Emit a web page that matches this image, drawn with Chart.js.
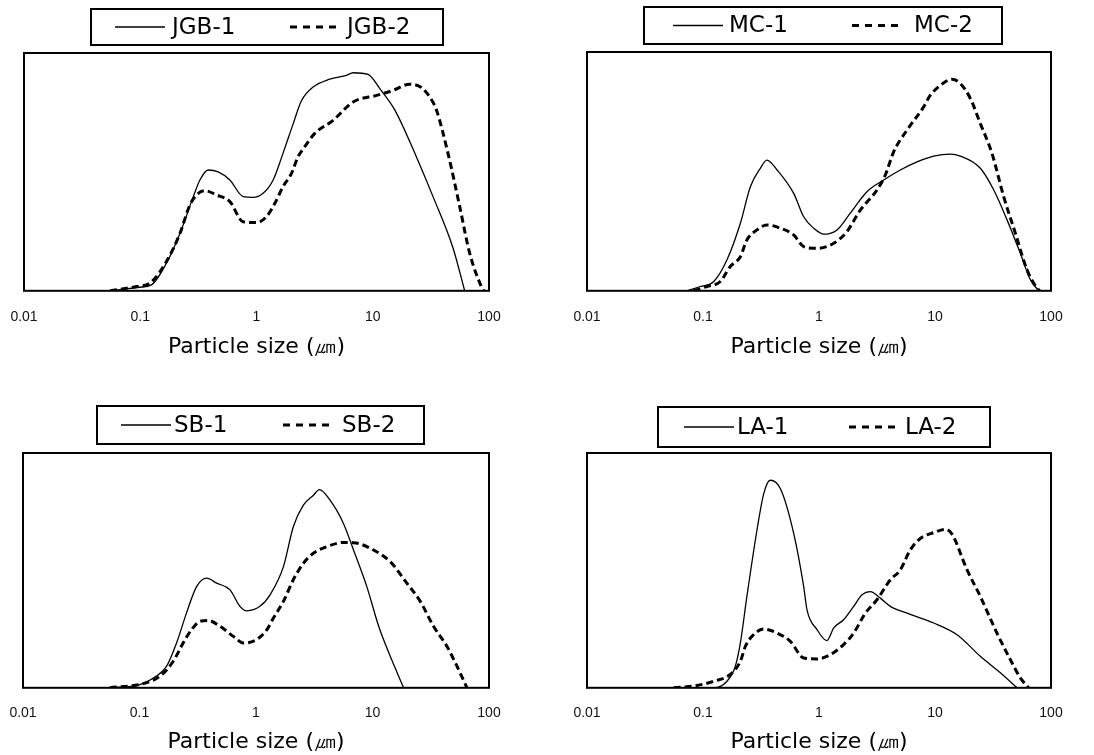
<!DOCTYPE html>
<html><head><meta charset="utf-8">
<script src="https://cdn.jsdelivr.net/npm/chart.js@4.4.1/dist/chart.umd.min.js"></script>
<style>
html,body{margin:0;padding:0;background:#fff;}
#wrap{position:relative;width:1094px;height:755px;overflow:hidden;background:#fff;}
canvas{position:absolute;}
</style></head><body>
<div id="wrap">
<canvas id="c1" width="547" height="380" style="left:0;top:0"></canvas>
<canvas id="c2" width="547" height="380" style="left:547px;top:0"></canvas>
<canvas id="c3" width="547" height="375" style="left:0;top:380px"></canvas>
<canvas id="c4" width="547" height="375" style="left:547px;top:380px"></canvas>
</div>
<script>
// ---- data ----
const tickValues = [0.01, 0.1, 1, 10, 100];
const tickLabels = ['0.01', '0.1', '1', '10', '100'];
const axisTitle = 'Particle size (\u339B)';

const jgb1Size  = [0.055, 0.099, 0.125, 0.168, 0.219, 0.286, 0.326, 0.384, 0.468, 0.59, 0.768, 0.936, 1.14, 1.39, 1.69, 2.07, 2.44, 3.07, 4.27, 5.94, 6.78, 9.12, 11.5, 15.5, 23.7, 33.0, 49.1, 61.8];
const jgb1Value = [0, 1.5, 2.5, 11.6, 24, 39.6, 46.6, 50.8, 50, 46.6, 39.6, 39.3, 41, 46.6, 57.8, 70.3, 80, 85.7, 89, 90.6, 91.7, 91, 85, 76, 56.4, 39.6, 17.9, 0];
const jgb2Size  = [0.055, 0.093, 0.121, 0.168, 0.219, 0.267, 0.305, 0.36, 0.453, 0.59, 0.768, 1.0, 1.22, 1.44, 1.69, 2.0, 2.28, 2.6, 3.17, 4.56, 6.78, 10.8, 15.0, 20.8, 26.2, 30.9, 35.3, 44.4, 56.0, 68.2, 85.9, 90];
const jgb2Value = [0, 1.8, 3.2, 12.3, 24, 36, 40.3, 42.1, 40.3, 37.5, 29, 28.7, 31.2, 36.8, 43.8, 49.4, 56.4, 60.6, 66.2, 71.7, 79.4, 82.2, 84.3, 86.9, 85.5, 81.5, 76, 57.8, 35.4, 15.8, 1.8, 0];

const mc1Size  = [0.073, 0.0948, 0.124, 0.161, 0.21, 0.256, 0.312, 0.356, 0.435, 0.605, 0.738, 0.9, 1.1, 1.43, 1.86, 2.59, 3.61, 5.02, 7.0, 9.75, 13.6, 16.5, 24.6, 32.1, 41.8, 54.4, 66.4, 78.3];
const mc1Value = [0, 1.8, 3.9, 13, 28.3, 43.6, 51.3, 54.7, 50.6, 40.8, 31, 26.2, 23.7, 25.5, 32.5, 41.5, 46.4, 50.6, 54, 56.4, 57.2, 56.4, 51.3, 42.2, 29.7, 15.7, 4.6, 0];
const mc2Size  = [0.083, 0.108, 0.141, 0.172, 0.21, 0.239, 0.292, 0.356, 0.464, 0.605, 0.738, 0.961, 1.34, 1.74, 2.27, 3.16, 3.73, 4.4, 5.74, 7.98, 9.12, 11.1, 14.0, 16.5, 20.2, 24.6, 31.0, 39.1, 49.3, 62.1, 75.7, 80];
const mc2Value = [0, 1.8, 3.9, 10.2, 14.3, 21.3, 25.5, 27.6, 26.2, 23.4, 18.5, 17.8, 19.9, 24.8, 33.8, 42.2, 48.5, 58.2, 67.3, 77, 81.9, 86, 88.6, 86.8, 80.5, 70, 57.5, 39.4, 24.1, 8.8, 1.1, 0];

const sb1Size  = [0.0556, 0.101, 0.14, 0.171, 0.208, 0.253, 0.309, 0.377, 0.459, 0.598, 0.728, 0.832, 1.08, 1.32, 1.72, 2.09, 2.55, 3.11, 3.5, 4.32, 5.63, 6.87, 8.94, 11.3, 14.2, 18.5];
const sb1Value = [0, 1.4, 5, 9.2, 19.1, 31.8, 43.1, 46.7, 44.6, 41.7, 34.7, 32.8, 34.7, 39.6, 51.6, 68.6, 77.8, 82, 84.4, 79.9, 70, 58.7, 43.1, 26.2, 13.4, 0];
const sb2Size  = [0.0556, 0.108, 0.15, 0.195, 0.237, 0.28, 0.33, 0.389, 0.491, 0.639, 0.778, 1.01, 1.24, 1.41, 1.72, 2.09, 2.55, 3.11, 4.05, 5.63, 6.87, 10.2, 14.2, 19.7, 25.7, 33.4, 43.5, 53.1, 64.7];
const sb2Value = [0, 1.8, 5, 11.3, 19.1, 24.8, 28.3, 28.7, 26.2, 21.9, 19.1, 20.5, 24.8, 29.7, 36.8, 46, 53, 57.3, 60.1, 61.9, 61.8, 58.7, 53.7, 44.6, 36.8, 26.2, 17.7, 9.2, 0];

const la1Size  = [0.0559, 0.124, 0.161, 0.19, 0.21, 0.239, 0.292, 0.334, 0.38, 0.464, 0.605, 0.738, 0.788, 0.961, 1.17, 1.34, 1.63, 1.99, 2.35, 2.77, 3.38, 4.12, 5.74, 9.75, 15.5, 24.6, 36.6, 50.9];
const la1Value = [0, 0, 2.8, 9.2, 19.1, 38.9, 67.2, 82.7, 88.4, 84.9, 65.8, 43.1, 33.2, 24.8, 20.1, 25.5, 29, 34.7, 39.6, 41, 38.2, 34.7, 31.8, 27.6, 22.6, 13.4, 6.4, 0];
const la2Size  = [0.0559, 0.0889, 0.124, 0.172, 0.21, 0.232, 0.264, 0.334, 0.435, 0.566, 0.738, 0.961, 1.25, 1.63, 1.99, 2.51, 3.16, 4.12, 5.02, 6.12, 7.48, 9.75, 12.3, 14.0, 18.9, 24.6, 34.2, 44.6, 54.4, 64.1];
const la2Value = [0, 1, 2.8, 5.7, 11.3, 17.7, 21.9, 25, 23.3, 19.8, 12.7, 12.3, 14.1, 18.4, 23.3, 31.8, 37.5, 46, 50.2, 58.7, 63.6, 66.1, 67.5, 65.5, 50.2, 38.9, 23.3, 12, 4.2, 0];

// ---- plugins ----
const frame = {
  id: 'frame',
  afterDraw(chart) {
    const a = chart.chartArea, ctx = chart.ctx;
    ctx.save();
    ctx.lineWidth = 2; ctx.strokeStyle = '#000';
    ctx.strokeRect(a.left, a.top, a.right - a.left, a.bottom - a.top);
    ctx.restore();
  }
};
const boxLegend = {
  id: 'boxLegend',
  afterDraw(chart, args, o) {
    const ctx = chart.ctx;
    ctx.save();
    ctx.lineWidth = 2; ctx.strokeStyle = '#000';
    ctx.strokeRect(o.x, o.y, o.w, o.h);
    const cy = o.y + o.h / 2;
    ctx.font = '23px "DejaVu Sans"';
    ctx.textBaseline = 'middle';
    ctx.fillStyle = '#000';
    chart.data.datasets.forEach((ds, i) => {
      const it = o.items[i];
      ctx.beginPath();
      ctx.setLineDash(i === 1 ? [7, 6] : []);
      ctx.lineWidth = ds.borderWidth;
      ctx.moveTo(it[0], cy); ctx.lineTo(it[0] + 50, cy); ctx.stroke();
      ctx.setLineDash([]);
      ctx.fillText(ds.label, it[1], cy + 1);
    });
    ctx.restore();
  }
};

function pts(sz, val) { return sz.map((s, i) => ({ x: s, y: val[i] })); }

function makeChart(id, labels, s1, s2, L) {
  new Chart(document.getElementById(id), {
    type: 'line',
    data: {
      datasets: [
        { label: labels[0], data: pts(s1[0], s1[1]), borderColor: '#000', borderWidth: 1.3,
          pointRadius: 0, cubicInterpolationMode: 'monotone', fill: false },
        { label: labels[1], data: pts(s2[0], s2[1]), borderColor: '#000', borderWidth: 3,
          borderDash: [7, 4], pointRadius: 0, cubicInterpolationMode: 'monotone', fill: false }
      ]
    },
    options: {
      responsive: false, animation: false, devicePixelRatio: 1,
      layout: { padding: L.pad },
      plugins: { legend: { display: false }, tooltip: { enabled: false }, boxLegend: L.legend },
      scales: {
        x: {
          type: 'logarithmic', min: 0.01, max: 100,
          afterBuildTicks: (sc) => { sc.ticks = tickValues.map(v => ({ value: v })); },
          grid: { display: false, drawTicks: true, tickLength: L.tickLen, color: 'rgba(0,0,0,0)' },
          border: { display: false },
          ticks: { autoSkip: false, maxRotation: 0, padding: 1, color: '#111',
                   font: { family: 'Liberation Sans', size: 14 },
                   callback: (v, i) => tickLabels[i] },
          title: { display: true, text: axisTitle, color: '#000', padding: { top: L.titlePad, bottom: 0 },
                   font: { family: 'DejaVu Sans', size: 22 } }
        },
        y: { type: 'linear', min: 0, max: 100, display: false }
      }
    },
    plugins: [frame, boxLegend]
  });
}

makeChart('c1', ['JGB-1', 'JGB-2'], [jgb1Size, jgb1Value], [jgb2Size, jgb2Value], {
  pad: { left: 24, right: 58, top: 53, bottom: 20 }, tickLen: 17, titlePad: 7,
  legend: { x: 91, y: 9, w: 352, h: 36, items: [[115, 172], [290, 347]] }
});
makeChart('c2', ['MC-1', 'MC-2'], [mc1Size, mc1Value], [mc2Size, mc2Value], {
  pad: { left: 40, right: 43, top: 52, bottom: 20 }, tickLen: 17, titlePad: 7,
  legend: { x: 97, y: 7, w: 358, h: 37, items: [[126, 182], [305, 367]] }
});
makeChart('c3', ['SB-1', 'SB-2'], [sb1Size, sb1Value], [sb2Size, sb2Value], {
  pad: { left: 23, right: 58, top: 73, bottom: 0 }, tickLen: 16, titlePad: 6,
  legend: { x: 97, y: 26, w: 327, h: 38, items: [[121, 174], [283, 342]] }
});
makeChart('c4', ['LA-1', 'LA-2'], [la1Size, la1Value], [la2Size, la2Value], {
  pad: { left: 40, right: 43, top: 73, bottom: 0 }, tickLen: 16, titlePad: 6,
  legend: { x: 111, y: 27, w: 332, h: 40, items: [[137, 190], [302, 358]] }
});
</script>
</body></html>
